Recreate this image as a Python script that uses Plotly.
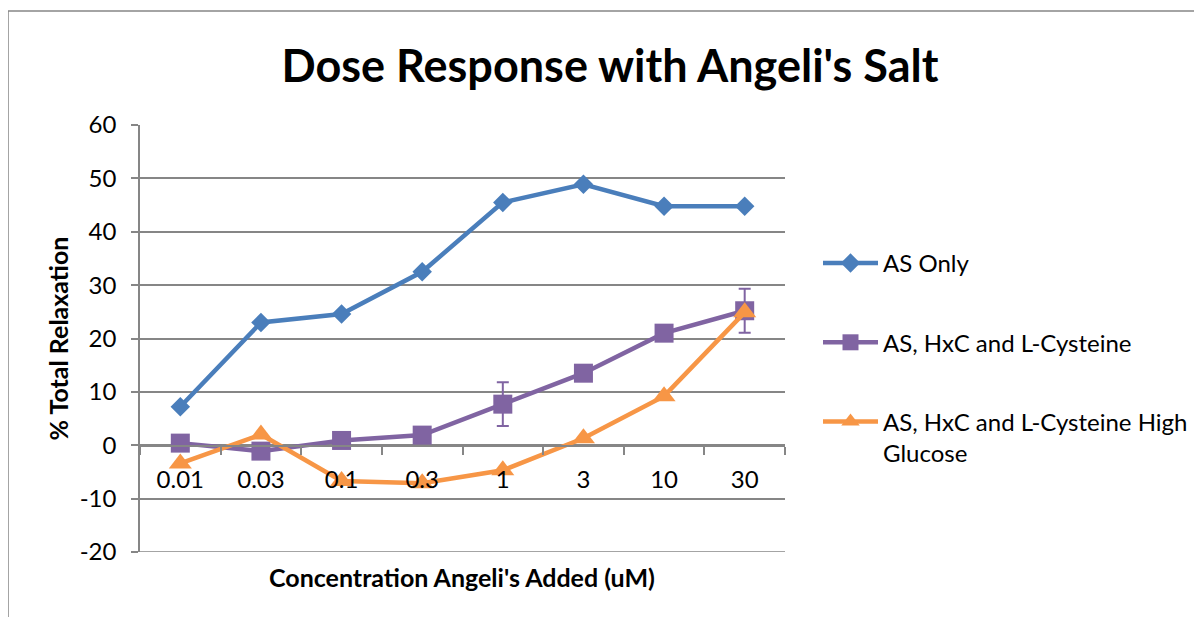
import plotly.graph_objects as go

categories = ["0.01", "0.03", "0.1", "0.3", "1", "3", "10", "30"]
as_only = [7.2, 23.0, 24.6, 32.5, 45.5, 48.9, 44.8, 44.8]
as_hxc_lcys = [0.4, -1.1, 0.9, 1.9, 7.7, 13.5, 21.0, 25.2]
as_hxc_lcys_err = [0, 0, 0, 0, 4.1, 0, 0, 4.1]
as_hxc_lcys_hg = [-3.4, 2.0, -6.7, -7.1, -4.7, 1.3, 9.2, 24.9]
y_ticks = [-20, -10, 0, 10, 20, 30, 40, 50, 60]
y_tick_labels = ["-20", "-10", "0", "10", "20", "30", "40", "50", "60"]

FONT = "Lato"
GRID = "#868686"

fig = go.Figure()
fig.add_trace(go.Scatter(
    x=categories, y=as_only, name="AS Only", mode="lines+markers",
    line=dict(color="#4A7EBB", width=4.5),
    marker=dict(symbol="diamond", size=15, color="#4A7EBB"),
    legendgroup="a"))
fig.add_trace(go.Scatter(
    x=categories, y=as_hxc_lcys, name="AS, HxC and L-Cysteine", mode="lines+markers",
    line=dict(color="#8064A2", width=4.5),
    marker=dict(symbol="square", size=19, color="#8064A2"),
    error_y=dict(type="data", array=as_hxc_lcys_err, visible=True,
                 color="#8064A2", thickness=2, width=6),
    legendgroup="b"))
fig.add_trace(go.Scatter(
    x=categories, y=as_hxc_lcys_hg, name="AS, HxC and L-Cysteine High<br>Glucose",
    mode="lines+markers",
    line=dict(color="#F79646", width=4.5),
    marker=dict(symbol="triangle-up", size=20, color="#F79646"),
    legendgroup="c"))

# page offset (body margin of the html page)
OFF = 8
PL, PR, PT, PB = 140, 785, 125, 552  # plot area in page pixels
L, T = PL - OFF, PT - OFF
R = 1202 - (PR - OFF)
B = 617 - (PB - OFF)
PW, PH = PR - PL, PB - PT

def px(x):
    return (x - PL) / PW

def py(y):
    return (PB - y) / PH

fig.update_layout(
    width=1202, height=617,
    margin=dict(l=L, r=R, t=T, b=B, autoexpand=False),
    paper_bgcolor="white", plot_bgcolor="white",
    font=dict(family=FONT, color="black"),
    title=dict(text="<b>Dose Response with Angeli's Salt</b>",
               font=dict(size=45, family=FONT, color="black"),
               x=(610 - OFF) / 1202, xanchor="center", y=1 - 58 / 617, yanchor="middle",
               xref="container", yref="container"),
    xaxis=dict(type="category", categoryorder="array", categoryarray=categories,
               range=[-0.5, 7.5], anchor="free", position=py(446),
               showline=True, linecolor=GRID, linewidth=1.5, automargin=False,
               ticks="outside", tickson="boundaries", ticklen=8, tickcolor=GRID,
               tickwidth=1.5, showgrid=False, zeroline=False, ticklabelstandoff=12,
               tickfont=dict(size=24, family=FONT, color="black")),
    yaxis=dict(range=[-20, 60], tickmode="array", tickvals=y_ticks, ticktext=y_tick_labels,
               showgrid=True, gridcolor=GRID, gridwidth=1.5, automargin=False,
               showline=True, linecolor=GRID, linewidth=1.5, zeroline=False,
               ticks="outside", ticklen=7, tickcolor=GRID, tickwidth=1.5,
               ticklabelstandoff=10,
               tickfont=dict(size=24, family=FONT, color="black"),
               title=dict(text="<b>% Total Relaxation</b>", standoff=4,
                          font=dict(size=25, family=FONT, color="black"))),
    legend=dict(x=px(818), y=py(241), xanchor="left", yanchor="top",
                itemwidth=55, tracegroupgap=45, valign="top",
                font=dict(size=24, family=FONT, color="black"),
                bgcolor="rgba(0,0,0,0)"),
    showlegend=True,
)

fig.add_annotation(text="<b>Concentration Angeli's Added (uM)</b>",
                   xref="paper", yref="paper", x=px(462), y=py(577),
                   xanchor="center", yanchor="middle", showarrow=False,
                   font=dict(size=25, family=FONT, color="black"))

# bottom gridline at the lower end of the value axis
fig.add_shape(type="line", xref="paper", yref="y", layer="below",
              x0=0, x1=1, y0=y_ticks[0], y1=y_ticks[0],
              line=dict(color=GRID, width=1.5))

# outer chart frame
fig.add_shape(type="line", xref="paper", yref="paper",
              x0=px(8), x1=px(8), y0=py(11), y1=py(660),
              line=dict(color=GRID, width=1.5))
fig.add_shape(type="line", xref="paper", yref="paper",
              x0=px(8), x1=px(1260), y0=py(11), y1=py(11),
              line=dict(color=GRID, width=1.5))

fig.write_html("out.html")
